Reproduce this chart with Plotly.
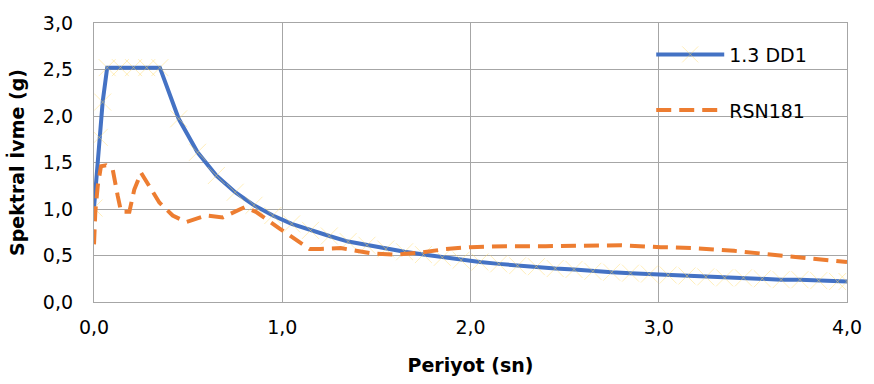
import plotly.graph_objects as go

# Design spectrum 1.3 DD1
period_dd1 = [0.0, 0.028, 0.046, 0.07, 0.14, 0.21, 0.28, 0.35, 0.45, 0.55, 0.65, 0.75, 0.85, 0.95,
              1.05, 1.15, 1.25, 1.35, 1.45, 1.55, 1.65, 1.75, 1.85, 1.95, 2.05, 2.15, 2.25, 2.35,
              2.45, 2.55, 2.65, 2.75, 2.85, 2.95, 3.05, 3.15, 3.25, 3.35, 3.45, 3.55, 3.65, 3.75,
              3.85, 3.95, 4.0]
sa_dd1 = [1.01, 1.77, 2.15, 2.52, 2.52, 2.52, 2.52, 2.52, 1.97, 1.61, 1.36, 1.18, 1.04, 0.93,
          0.84, 0.77, 0.71, 0.65, 0.61, 0.57, 0.54, 0.51, 0.48, 0.45, 0.43, 0.41, 0.39, 0.38,
          0.36, 0.35, 0.33, 0.32, 0.31, 0.30, 0.29, 0.28, 0.27, 0.26, 0.26, 0.25, 0.24, 0.24,
          0.23, 0.22, 0.22]

# Record RSN181
period_rsn = [0.0, 0.007, 0.02, 0.037, 0.064, 0.10, 0.126, 0.144, 0.188, 0.214, 0.25, 0.294,
              0.347, 0.418, 0.49, 0.596, 0.684, 0.80, 0.86, 0.986, 1.145, 1.20, 1.31, 1.48,
              1.60, 1.73, 1.87, 2.00, 2.19, 2.40, 2.60, 2.80, 3.01, 3.18, 3.40, 3.61, 3.80, 4.0]
sa_rsn = [0.62, 0.97, 1.25, 1.46, 1.47, 1.42, 1.14, 0.97, 0.97, 1.21, 1.39, 1.25,
          1.07, 0.93, 0.86, 0.93, 0.91, 1.02, 0.97, 0.79, 0.57, 0.57, 0.58, 0.52,
          0.51, 0.53, 0.57, 0.59, 0.60, 0.60, 0.61, 0.61, 0.59, 0.58, 0.55, 0.51, 0.47, 0.43]

x_ticks = [0, 1, 2, 3, 4]
y_ticks = [0, 0.5, 1.0, 1.5, 2.0, 2.5, 3.0]

FONT = "DejaVu Sans"
GRID = "#a6a6a6"

fig = go.Figure()
fig.add_trace(go.Scatter(
    x=period_dd1, y=sa_dd1, name="1.3 DD1", mode="lines+markers",
    legendgroup="a",
    line=dict(color="#4472C4", width=4),
    marker=dict(symbol="x-thin", size=17, color="rgba(255,217,102,0.45)",
                line=dict(width=1, color="rgba(255,217,102,0.45)")),
))
fig.add_trace(go.Scatter(
    x=period_rsn, y=sa_rsn, name="RSN181", mode="lines",
    legendgroup="b",
    line=dict(color="#ED7D31", width=4, dash="15px,8px"),
))

fig.update_layout(
    width=874, height=384,
    margin=dict(l=94, r=24, t=19, b=78),
    paper_bgcolor="white", plot_bgcolor="white",
    separators=",.",
    font=dict(family=FONT, size=19, color="#000000"),
    showlegend=True,
    legend=dict(x=0.74, y=0.955, xanchor="left", yanchor="top",
                bgcolor="rgba(0,0,0,0)", font=dict(family=FONT, size=19),
                itemwidth=68, traceorder="grouped", tracegroupgap=28),
    xaxis=dict(range=[0, 4], tickvals=x_ticks, tickformat=".1f",
               showgrid=True, gridcolor=GRID, gridwidth=1.3,
               showline=True, linecolor=GRID, linewidth=1.3, mirror=True,
               ticks="outside", ticklen=8, tickcolor="rgba(0,0,0,0)",
               zeroline=False,
               title=dict(text="<b>Periyot (sn)</b>", font=dict(family=FONT, size=19), standoff=21)),
    yaxis=dict(range=[0, 3], tickvals=y_ticks, tickformat=".1f",
               showgrid=True, gridcolor=GRID, gridwidth=1.3,
               showline=True, linecolor=GRID, linewidth=1.3, mirror=True,
               ticks="outside", ticklen=16, tickcolor="rgba(0,0,0,0)",
               zeroline=False,
               title=dict(text="<b>Spektral İvme (g)</b>", font=dict(family=FONT, size=19), standoff=13)),
)

fig.write_html("out.html")
